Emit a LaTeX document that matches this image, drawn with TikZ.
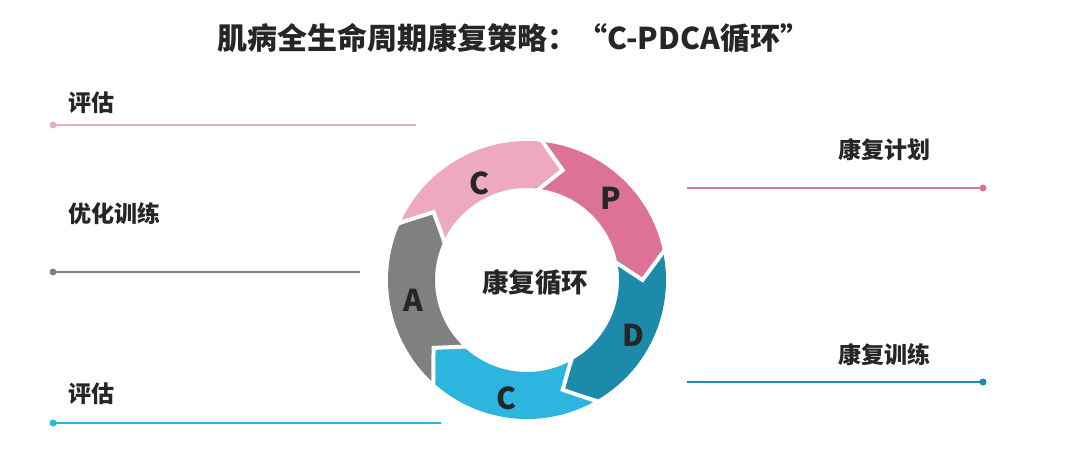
\documentclass[tikz,border=0pt]{standalone}
\usepackage{fontspec}
\setmainfont{Noto Sans CJK SC}
\usepackage{xcolor}
\definecolor{rosaPDCA}{HTML}{ECA9C1}
\definecolor{rojoPDCA}{HTML}{DC7295}
\definecolor{petroleoPDCA}{HTML}{1C8BA9}
\definecolor{cianPDCA}{HTML}{2CB5DE}
\definecolor{grisPDCA}{HTML}{808080}
\definecolor{textoPDCA}{HTML}{262626}
\usepackage{tikz}
\usetikzlibrary{positioning}

\begin{document}
\begin{tikzpicture}[x=1pt,y=1pt,
  sidelabel/.style={anchor=west,inner sep=0pt,text=textoPDCA,
    font=\fontsize{23}{26}\selectfont\bfseries},
  ringletter/.style={inner sep=0pt,text=textoPDCA,
    font=\fontsize{30}{34}\selectfont\bfseries},
  guideline/.style={line width=1.6pt},
  gap/.style={white,line width=4pt}]

\useasboundingbox (0,0) rectangle (1080,467);

% Título
\node[text=textoPDCA,font=\fontsize{30}{34}\selectfont\bfseries] (titulo)
    at (514,429) {肌病全生命周期康复策略：“C-PDCA循环”};

% Ciclo
\begin{scope}[shift={(527,187)}]
\fill[rosaPDCA] (157:139) arc[start angle=157,end angle=85,radius=139]
    -- (72:115.5) -- (85:92) arc[start angle=85,end angle=157,radius=92]
    -- (144:115.5) -- cycle;
\fill[rojoPDCA] (85:139) arc[start angle=85,end angle=13,radius=139]
    -- (0:115.5) -- (13:92) arc[start angle=13,end angle=85,radius=92]
    -- (72:115.5) -- cycle;
\fill[petroleoPDCA] (13:139) arc[start angle=13,end angle=-59,radius=139]
    -- (-72:115.5) -- (-59:92) arc[start angle=-59,end angle=13,radius=92]
    -- (0:115.5) -- cycle;
\fill[cianPDCA] (-59:139) arc[start angle=-59,end angle=-131,radius=139]
    -- (-144:115.5) -- (-131:92) arc[start angle=-131,end angle=-59,radius=92]
    -- (-72:115.5) -- cycle;
\fill[grisPDCA] (-131:139) arc[start angle=-131,end angle=-203,radius=139]
    -- (-216:115.5) -- (-203:92) arc[start angle=-203,end angle=-131,radius=92]
    -- (-144:115.5) -- cycle;

% Separaciones
\draw[gap] (85:143) -- (72:115.5) -- (85:88);
\draw[gap] (13:143) -- (0:115.5) -- (13:88);
\draw[gap] (-59:143) -- (-72:115.5) -- (-59:88);
\draw[gap] (-131:143) -- (-144:115.5) -- (-131:88);
\draw[gap] (-203:143) -- (-216:115.5) -- (-203:88);

\node[ringletter] (letraC1) at (-47,97) {C};
\node[ringletter] (letraP) at (84,82) {P};
\node[ringletter] (letraD) at (106,-55) {D};
\node[ringletter] (letraC2) at (-20,-118) {C};
\node[ringletter] (letraA) at (-114,-20) {A};

\node[text=textoPDCA,font=\fontsize{26.5}{30}\selectfont\bfseries] (centro)
    at (8,-3) {康复循环};
\end{scope}

% Etiquetas izquierda
\node[sidelabel] (evalSup) at (68,364) {评估};
\coordinate (evalSupA) at (53,342);
\coordinate (evalSupB) at (416,342);
\draw[guideline,rosaPDCA] (evalSupA) -- (evalSupB);
\fill[rosaPDCA] (evalSupA) circle[radius=3.5];

\node[sidelabel] (optim) at (68,253) {优化训练};
\coordinate (optimA) at (53,195);
\coordinate (optimB) at (360,195);
\draw[guideline,grisPDCA] (optimA) -- (optimB);
\fill[grisPDCA] (optimA) circle[radius=3.5];

\node[sidelabel] (evalInf) at (68,73) {评估};
\coordinate (evalInfA) at (53,44);
\coordinate (evalInfB) at (441,44);
\draw[guideline,cianPDCA] (evalInfA) -- (evalInfB);
\fill[cianPDCA] (evalInfA) circle[radius=3.5];

% Etiquetas derecha
\node[sidelabel] (plan) at (838,317) {康复计划};
\coordinate (planA) at (687,279);
\coordinate (planB) at (983,279);
\draw[guideline,rojoPDCA] (planA) -- (planB);
\fill[rojoPDCA] (planB) circle[radius=3.5];

\node[sidelabel] (entren) at (838,112) {康复训练};
\coordinate (entrenA) at (687,85);
\coordinate (entrenB) at (983,85);
\draw[guideline,petroleoPDCA] (entrenA) -- (entrenB);
\fill[petroleoPDCA] (entrenB) circle[radius=3.5];

\end{tikzpicture}
\end{document}
